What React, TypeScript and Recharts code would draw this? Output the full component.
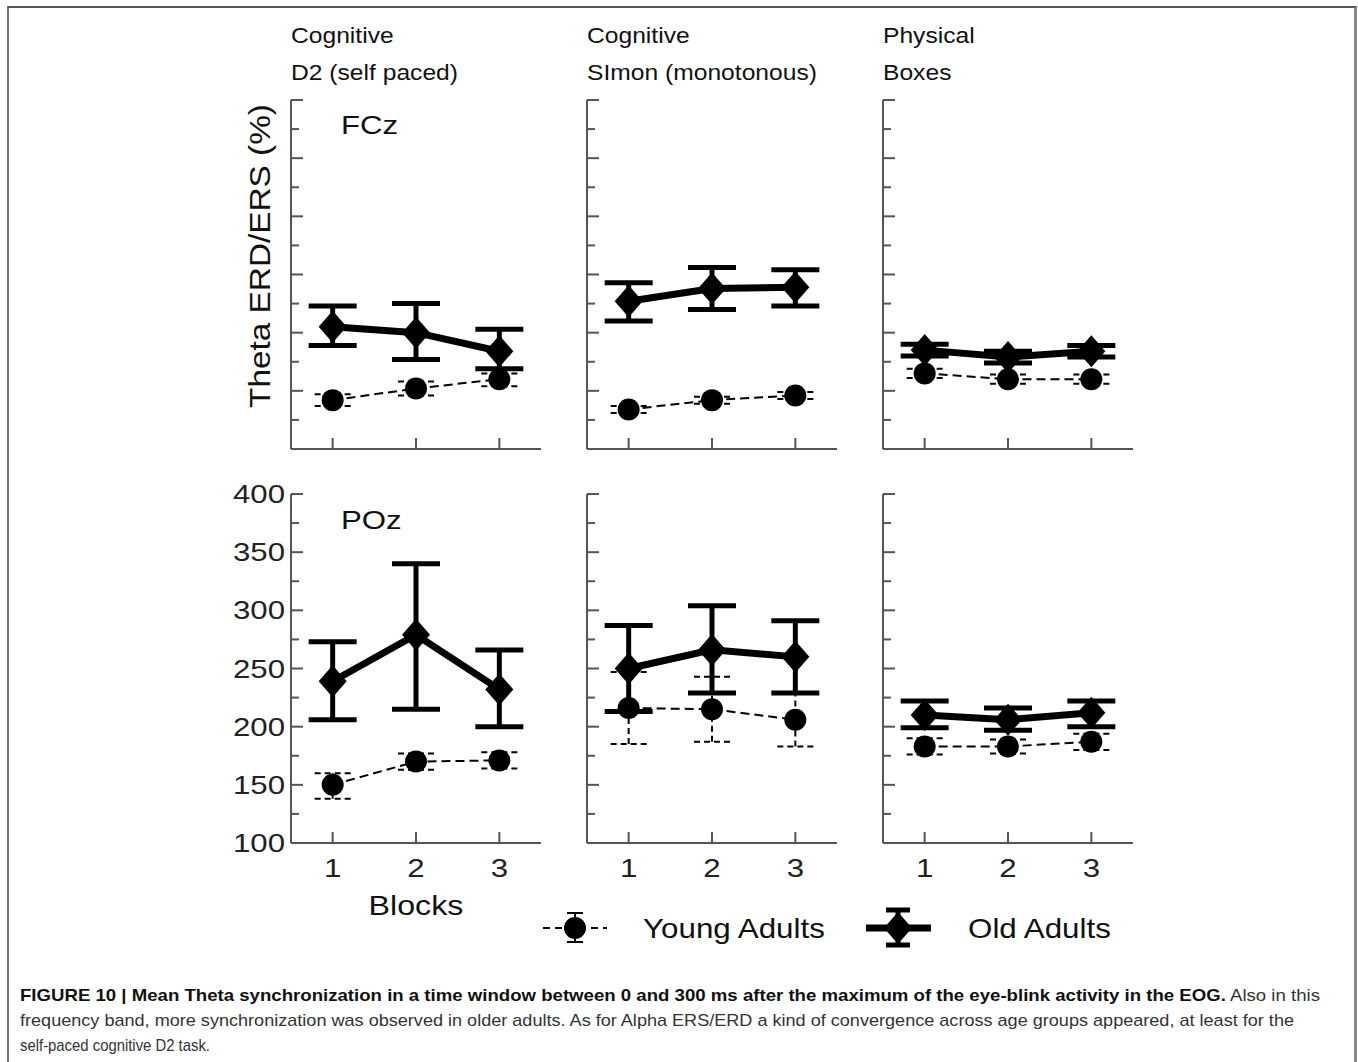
import React from "react";
import { LineChart, Line, XAxis, YAxis, ErrorBar } from "recharts";

const blocks = [1, 2, 3];
const yTicks = [100, 125, 150, 175, 200, 225, 250, 275, 300, 325, 350, 375, 400];

// FCz row
const fczD2Old = [205, 200, 184];
const fczD2OldCI = [[189, 223], [177, 225], [169, 203]];
const fczD2Young = [142, 152, 160];
const fczD2YoungCI = [[137, 147], [146, 158], [154, 165]];

const fczSimonOld = [227, 238, 239];
const fczSimonOldCI = [[210, 243], [220, 256], [223, 254]];
const fczSimonYoung = [134, 142, 146];
const fczSimonYoungCI = [[131, 137], [139, 145], [143, 149]];

const fczBoxesOld = [185, 179, 184];
const fczBoxesOldCI = [[180, 190], [174, 184], [179, 189]];
const fczBoxesYoung = [165, 160, 160];
const fczBoxesYoungCI = [[161, 169], [156, 164], [156, 164]];

// POz row
const pozD2Old = [239, 279, 232];
const pozD2OldCI = [[206, 273], [215, 340], [200, 266]];
const pozD2Young = [150, 170, 171];
const pozD2YoungCI = [[138, 160], [163, 177], [164, 178]];

const pozSimonOld = [250, 266, 260];
const pozSimonOldCI = [[213, 287], [229, 304], [229, 291]];
const pozSimonYoung = [216, 215, 206];
const pozSimonYoungCI = [[185, 247], [187, 243], [183, 229]];

const pozBoxesOld = [210, 206, 212];
const pozBoxesOldCI = [[199, 222], [197, 216], [200, 222]];
const pozBoxesYoung = [183, 183, 187];
const pozBoxesYoungCI = [[176, 190], [177, 189], [180, 194]];

const FONT = "'Liberation Sans', Arial, Helvetica, sans-serif";
const CAPTION_FONT = "'Liberation Sans Narrow', 'Liberation Sans', Arial, sans-serif";
const AXIS = "#555";

const build = (old: number[], oldCI: number[][], young: number[], youngCI: number[][]) =>
  blocks.map((b, i) => ({
    block: b,
    old: old[i],
    oldErr: [old[i] - oldCI[i][0], oldCI[i][1] - old[i]],
    young: young[i],
    youngErr: [young[i] - youngCI[i][0], youngCI[i][1] - young[i]],
  }));

const Diamond = (p: any) => {
  const { cx, cy } = p;
  if (cx == null || cy == null) return null;
  return (
    <path
      key={`d-${cx}`}
      d={`M${cx},${cy - 16} L${cx + 14},${cy} L${cx},${cy + 16} L${cx - 14},${cy} Z`}
      fill="#000"
    />
  );
};

const Dot = (p: any) => {
  const { cx, cy } = p;
  if (cx == null || cy == null) return null;
  return <circle key={`c-${cx}`} cx={cx} cy={cy} r={11} fill="#000" />;
};

const YTick = (p: any) => {
  const { x, y, payload, showLabels } = p;
  const v = payload.value;
  const major = v % 50 === 0;
  return (
    <g>
      <line x1={x} x2={x + (major ? 12 : 8)} y1={y} y2={y} stroke={AXIS} strokeWidth={2} />
      {showLabels && major && (
        <text
          transform={`translate(${x - 6},${y + 9}) scale(1.2,1)`}
          textAnchor="end"
          fontSize={26}
          fontFamily={FONT}
          fill="#222"
        >
          {v}
        </text>
      )}
    </g>
  );
};

const XTick = (p: any) => {
  const { x, y, payload, showLabels } = p;
  return (
    <g>
      <line x1={x} x2={x} y1={y} y2={y - 11} stroke={AXIS} strokeWidth={2} />
      {showLabels && (
        <text
          transform={`translate(${x},${y + 34}) scale(1.2,1)`}
          textAnchor="middle"
          fontSize={26}
          fontFamily={FONT}
          fill="#222"
        >
          {payload.value}
        </text>
      )}
    </g>
  );
};

interface PanelProps {
  data: any[];
  axisX: number;
  plotTop: number;
  yLabels?: boolean;
  xLabels?: boolean;
}

const Panel = ({ data, axisX, plotTop, yLabels = false, xLabels = false }: PanelProps) => (
  <div style={{ position: "absolute", left: axisX - 70, top: plotTop - 22 }}>
    <LineChart width={330} height={415} data={data} margin={{ top: 22, right: 10, left: 0, bottom: 0 }}>
      <XAxis
        dataKey="block"
        type="number"
        domain={[0.5, 3.5]}
        ticks={blocks}
        interval={0}
        height={44}
        tickSize={0}
        tickMargin={0}
        tickLine={false}
        axisLine={{ stroke: AXIS, strokeWidth: 2 }}
        tick={(t: any) => <XTick {...t} showLabels={xLabels} />}
      />
      <YAxis
        type="number"
        domain={[100, 400]}
        ticks={yTicks}
        interval={0}
        width={70}
        tickSize={0}
        tickMargin={0}
        tickLine={false}
        axisLine={{ stroke: AXIS, strokeWidth: 2 }}
        tick={(t: any) => <YTick {...t} showLabels={yLabels} />}
      />
      <Line
        dataKey="young"
        stroke="#000"
        strokeWidth={2}
        strokeDasharray="9 5"
        dot={Dot}
        activeDot={false}
        isAnimationActive={false}
      >
        <ErrorBar dataKey="youngErr" direction="y" width={18} stroke="#000" strokeWidth={2} strokeDasharray="6 4" />
      </Line>
      <Line
        dataKey="old"
        stroke="#000"
        strokeWidth={7}
        dot={Diamond}
        activeDot={false}
        isAnimationActive={false}
      >
        <ErrorBar dataKey="oldErr" direction="y" width={24} stroke="#000" strokeWidth={5} />
      </Line>
    </LineChart>
  </div>
);

const T = ({ x, y, size, children, anchor = "start", sx = 1.15, rotate = 0 }: any) => (
  <text
    transform={`translate(${x},${y}) rotate(${rotate}) scale(${sx},1)`}
    textAnchor={anchor}
    fontSize={size}
    fontFamily={FONT}
    fill="#111"
  >
    {children}
  </text>
);

const App = () => {
  const cols = [291, 587, 883];
  return (
    <div
      style={{
        position: "absolute",
        left: 0,
        top: 0,
        width: 1358,
        height: 1062,
        overflow: "hidden",
        background: "#fff",
      }}
    >
      <div
        style={{
          position: "absolute",
          left: 7,
          top: 6,
          width: 1345,
          height: 1070,
          borderLeft: "2px solid #777",
          borderTop: "2px solid #555",
          borderRight: "3px solid #888",
        }}
      />
      <Panel data={build(fczD2Old, fczD2OldCI, fczD2Young, fczD2YoungCI)} axisX={cols[0]} plotTop={100} />
      <Panel data={build(fczSimonOld, fczSimonOldCI, fczSimonYoung, fczSimonYoungCI)} axisX={cols[1]} plotTop={100} />
      <Panel data={build(fczBoxesOld, fczBoxesOldCI, fczBoxesYoung, fczBoxesYoungCI)} axisX={cols[2]} plotTop={100} />
      <Panel data={build(pozD2Old, pozD2OldCI, pozD2Young, pozD2YoungCI)} axisX={cols[0]} plotTop={494} yLabels xLabels />
      <Panel data={build(pozSimonOld, pozSimonOldCI, pozSimonYoung, pozSimonYoungCI)} axisX={cols[1]} plotTop={494} xLabels />
      <Panel data={build(pozBoxesOld, pozBoxesOldCI, pozBoxesYoung, pozBoxesYoungCI)} axisX={cols[2]} plotTop={494} xLabels />

      <svg width={1358} height={1062} style={{ position: "absolute", left: 0, top: 0, pointerEvents: "none" }}>
        <T x={291} y={43} size={22} sx={1.12}>Cognitive</T>
        <T x={291} y={80} size={22} sx={1.12}>D2 (self paced)</T>
        <T x={587} y={43} size={22} sx={1.12}>Cognitive</T>
        <T x={587} y={80} size={22} sx={1.12}>SImon (monotonous)</T>
        <T x={883} y={43} size={22} sx={1.12}>Physical</T>
        <T x={883} y={80} size={22} sx={1.12}>Boxes</T>

        <T x={341} y={134} size={26} sx={1.2}>FCz</T>
        <T x={341} y={529} size={26} sx={1.2}>POz</T>

        <T x={270} y={256} size={29} anchor="middle" rotate={-90} sx={1.15}>Theta ERD/ERS (%)</T>
        <T x={416} y={915} size={28} anchor="middle" sx={1.15}>Blocks</T>

        {/* legend */}
        <line x1={543} x2={607} y1={928} y2={928} stroke="#000" strokeWidth={2} strokeDasharray="7 5" />
        <line x1={575} x2={575} y1={913} y2={942} stroke="#000" strokeWidth={2} />
        <line x1={567} x2={583} y1={913} y2={913} stroke="#000" strokeWidth={2} />
        <line x1={567} x2={583} y1={942} y2={942} stroke="#000" strokeWidth={2} />
        <circle cx={575} cy={928} r={11} fill="#000" />
        <T x={643} y={938} size={28} sx={1.12}>Young Adults</T>

        <line x1={866} x2={931} y1={928} y2={928} stroke="#000" strokeWidth={7} />
        <line x1={898} x2={898} y1={910} y2={945} stroke="#000" strokeWidth={5} />
        <line x1={886} x2={910} y1={910} y2={910} stroke="#000" strokeWidth={5} />
        <line x1={886} x2={910} y1={945} y2={945} stroke="#000" strokeWidth={5} />
        <path d="M898,912 L912,928 L898,944 L884,928 Z" fill="#000" />
        <T x={968} y={938} size={28} sx={1.12}>Old Adults</T>

        {/* caption */}
        <text x={20} y={1001} fontSize={17} fontFamily={CAPTION_FONT} textLength={1300} lengthAdjust="spacingAndGlyphs" fill="#333">
          <tspan fontWeight="bold" fill="#111">
            FIGURE 10 | Mean Theta synchronization in a time window between 0 and 300 ms after the maximum of the eye-blink activity in the EOG.
          </tspan>
          <tspan> Also in this</tspan>
        </text>
        <text x={20} y={1026} fontSize={17} fontFamily={CAPTION_FONT} textLength={1274} lengthAdjust="spacingAndGlyphs" fill="#333">
          frequency band, more synchronization was observed in older adults. As for Alpha ERS/ERD a kind of convergence across age groups appeared, at least for the
        </text>
        <text x={20} y={1051} fontSize={17} fontFamily={CAPTION_FONT} textLength={190} lengthAdjust="spacingAndGlyphs" fill="#333">
          self-paced cognitive D2 task.
        </text>
      </svg>
    </div>
  );
};

export default App;
